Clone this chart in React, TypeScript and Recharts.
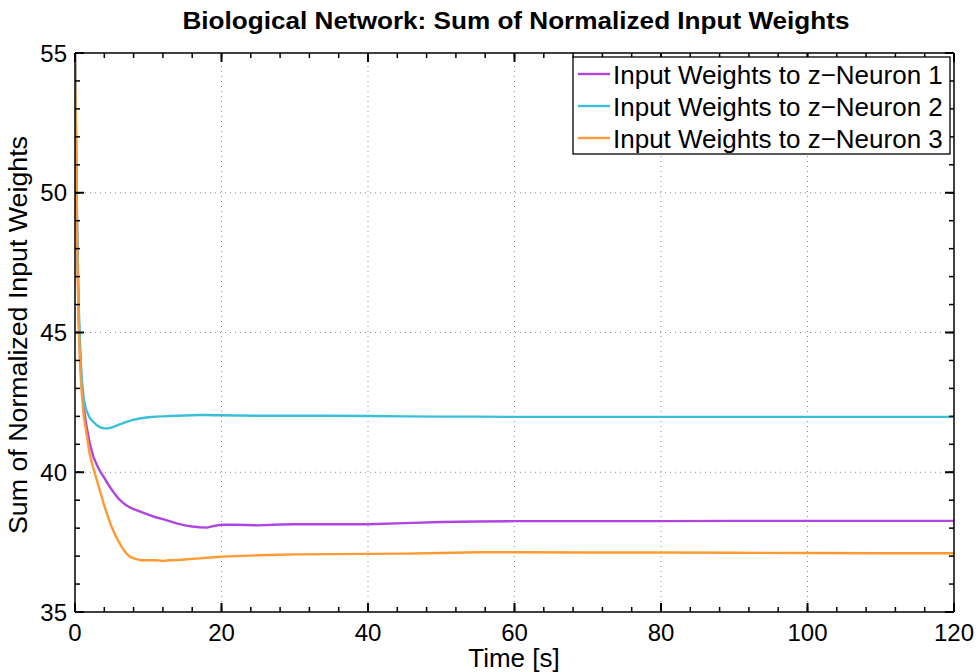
import React from "react";
import { LineChart, Line, XAxis, YAxis, ReferenceLine } from "recharts";

const TIME = [0, 0.15, 0.3, 0.5, 0.7, 0.9, 1.2, 1.5, 2, 2.5, 3, 3.5, 4, 4.5, 5, 5.5, 6, 6.5, 7, 7.5, 8, 9, 10, 11, 12, 13, 14, 15, 16, 17, 18, 19, 20, 22, 25, 28, 30, 35, 40, 45, 50, 55, 60, 70, 80, 90, 100, 110, 120];

const NEURON1 = [55, 51.6, 48.3, 45.6, 44.1, 43.2, 42.3, 41.75, 41.05, 40.56, 40.25, 40.0, 39.8, 39.58, 39.38, 39.2, 39.04, 38.92, 38.82, 38.74, 38.68, 38.58, 38.48, 38.39, 38.32, 38.24, 38.16, 38.1, 38.06, 38.03, 38.02, 38.08, 38.12, 38.12, 38.1, 38.13, 38.14, 38.14, 38.14, 38.18, 38.22, 38.24, 38.25, 38.25, 38.25, 38.26, 38.26, 38.26, 38.26];

const NEURON2 = [55, 51.8, 48.7, 46.0, 44.5, 43.4, 42.6, 42.25, 41.95, 41.8, 41.68, 41.6, 41.57, 41.57, 41.6, 41.65, 41.7, 41.75, 41.8, 41.84, 41.88, 41.93, 41.97, 41.99, 42.0, 42.01, 42.02, 42.03, 42.04, 42.05, 42.05, 42.04, 42.04, 42.03, 42.02, 42.02, 42.02, 42.02, 42.01, 42.0, 41.99, 41.99, 41.98, 41.98, 41.98, 41.98, 41.98, 41.98, 41.98];

const NEURON3 = [55, 51.5, 48.0, 45.3, 43.8, 42.9, 42.0, 41.5, 40.65, 40.15, 39.7, 39.25, 38.8, 38.4, 38.05, 37.75, 37.5, 37.28, 37.1, 36.98, 36.92, 36.85, 36.85, 36.85, 36.83, 36.85, 36.86, 36.88, 36.9, 36.92, 36.94, 36.96, 36.98, 37.0, 37.03, 37.05, 37.06, 37.07, 37.08, 37.09, 37.11, 37.14, 37.14, 37.13, 37.13, 37.12, 37.11, 37.1, 37.1];

const SERIES_KEYS = ["n1", "n2", "n3"];
const SERIES_NAMES = [
  "Input Weights to z\u2212Neuron 1",
  "Input Weights to z\u2212Neuron 2",
  "Input Weights to z\u2212Neuron 3",
];
const SERIES_COLORS = ["#b044e0", "#3bbfd9", "#ff9a33"];

const X_TICKS = [0, 4, 8, 12, 16, 20, 24, 28, 32, 36, 40, 44, 48, 52, 56, 60, 64, 68, 72, 76, 80, 84, 88, 92, 96, 100, 104, 108, 112, 116, 120];
const X_MAJOR = [0, 20, 40, 60, 80, 100, 120];
const X_GRID = [20, 40, 60, 80, 100];
const Y_TICKS = [35, 36, 37, 38, 39, 40, 41, 42, 43, 44, 45, 46, 47, 48, 49, 50, 51, 52, 53, 54, 55];
const Y_MAJOR = [35, 40, 45, 50, 55];
const Y_GRID = [40, 45, 50];

const TITLE = "Biological Network: Sum of Normalized Input Weights";
const X_LABEL = "Time [s]";
const Y_LABEL = "Sum of Normalized Input Weights";

const data = TIME.map((t, i) => ({ t, n1: NEURON1[i], n2: NEURON2[i], n3: NEURON3[i] }));

const FONT = "'Liberation Sans', Arial, Helvetica, sans-serif";
const TS = 5; // native (minor) inward tick length
const MAJ = 9; // major tick length
const TM_B = 17;
const TM_L = 13;
const TM_T = 11;
const TM_R = 11;
const TICK_FS = 24;
const TICK_W = 2;
const TICK_C = "#000";

function BottomTick(props: any) {
  const x = Number(props.x);
  const y = Number(props.y);
  const v = props.payload.value;
  if (!X_MAJOR.includes(v)) return <g />;
  const ay = y - TM_B + TS;
  return (
    <g>
      <path d={`M${x},${ay}L${x},${ay - MAJ}`} stroke={TICK_C} strokeWidth={TICK_W} fill="none" />
      <text x={x} y={y} dy="0.71em" textAnchor="middle" fontSize={TICK_FS} fontFamily={FONT} fill="#000" stroke="none">
        {v}
      </text>
    </g>
  );
}

function TopTick(props: any) {
  const x = Number(props.x);
  const y = Number(props.y);
  const v = props.payload.value;
  if (!X_MAJOR.includes(v)) return <g />;
  const ay = y + TM_T - TS;
  return <path d={`M${x},${ay}L${x},${ay + MAJ}`} stroke={TICK_C} strokeWidth={TICK_W} fill="none" />;
}

function LeftTick(props: any) {
  const x = Number(props.x);
  const y = Number(props.y);
  const v = props.payload.value;
  if (!Y_MAJOR.includes(v)) return <g />;
  const ax = x + TM_L - TS;
  return (
    <g>
      <path d={`M${ax},${y}L${ax + MAJ},${y}`} stroke={TICK_C} strokeWidth={TICK_W} fill="none" />
      <text x={x} y={y} dy="0.355em" textAnchor="end" fontSize={TICK_FS} fontFamily={FONT} fill="#000" stroke="none">
        {v}
      </text>
    </g>
  );
}

function RightTick(props: any) {
  const x = Number(props.x);
  const y = Number(props.y);
  const v = props.payload.value;
  if (!Y_MAJOR.includes(v)) return <g />;
  const ax = x - TM_R + TS;
  return <path d={`M${ax},${y}L${ax - MAJ},${y}`} stroke={TICK_C} strokeWidth={TICK_W} fill="none" />;
}

const axisLineStyle = { stroke: "#000", strokeWidth: 1.5 };
const tickLineStyle = { stroke: "#000", strokeWidth: 1.5 };

export default function App() {
  const W = 980;
  const H = 672;
  const legendX = 573;
  const legendY = 57;
  return (
    <div style={{ position: "absolute", left: 0, top: 0, width: W, height: H, background: "#fff", fontFamily: FONT }}>
      <LineChart
        width={W}
        height={H}
        data={data}
        margin={{ top: 43, right: 16, bottom: 0, left: 5 }}
      >
        <XAxis
          xAxisId="b"
          dataKey="t"
          type="number"
          domain={[0, 120]}
          ticks={X_TICKS}
          interval={0}
          orientation="bottom"
          height={60}
          tickSize={-TS}
          tickMargin={TM_B}
          tickLine={tickLineStyle}
          axisLine={axisLineStyle}
          tick={(p: any) => <BottomTick {...p} />}
          allowDataOverflow
        />
        <XAxis
          xAxisId="t"
          dataKey="t"
          type="number"
          domain={[0, 120]}
          ticks={X_TICKS}
          interval={0}
          orientation="top"
          height={10}
          tickSize={-TS}
          tickMargin={TM_T}
          tickLine={tickLineStyle}
          axisLine={axisLineStyle}
          tick={(p: any) => <TopTick {...p} />}
          allowDataOverflow
        />
        <YAxis
          yAxisId="l"
          type="number"
          domain={[35, 55]}
          ticks={Y_TICKS}
          interval={0}
          orientation="left"
          width={70}
          tickSize={-TS}
          tickMargin={TM_L}
          tickLine={tickLineStyle}
          axisLine={axisLineStyle}
          tick={(p: any) => <LeftTick {...p} />}
          allowDataOverflow
        />
        <YAxis
          yAxisId="r"
          type="number"
          domain={[35, 55]}
          ticks={Y_TICKS}
          interval={0}
          orientation="right"
          width={10}
          tickSize={-TS}
          tickMargin={TM_R}
          tickLine={tickLineStyle}
          axisLine={axisLineStyle}
          tick={(p: any) => <RightTick {...p} />}
          allowDataOverflow
        />
        {X_GRID.map((v) => (
          <ReferenceLine key={"gx" + v} xAxisId="b" yAxisId="l" x={v} stroke="#8a8a8a" strokeDasharray="1 4" strokeWidth={1} />
        ))}
        {Y_GRID.map((v) => (
          <ReferenceLine key={"gy" + v} xAxisId="b" yAxisId="l" y={v} stroke="#8a8a8a" strokeDasharray="1 4" strokeWidth={1} />
        ))}
        {SERIES_KEYS.map((k, i) => (
          <Line
            key={k}
            xAxisId="b"
            yAxisId="l"
            dataKey={k}
            name={SERIES_NAMES[i]}
            type="linear"
            stroke={SERIES_COLORS[i]}
            strokeWidth={2.4}
            dot={false}
            activeDot={false}
            isAnimationActive={false}
          />
        ))}
      </LineChart>
      <svg
        width={W}
        height={H}
        style={{ position: "absolute", left: 0, top: 0, pointerEvents: "none" }}
      >
        <text
          x={516}
          y={29}
          textAnchor="middle"
          fontSize={23}
          fontWeight="bold"
          fontFamily={FONT}
          fill="#000"
          textLength={667}
          lengthAdjust="spacingAndGlyphs"
        >
          {TITLE}
        </text>
        <text x={514} y={667} textAnchor="middle" fontSize={26} fontFamily={FONT} fill="#000">
          {X_LABEL}
        </text>
        <text
          x={0}
          y={0}
          transform={`translate(27, 335) rotate(-90)`}
          textAnchor="middle"
          fontSize={26}
          fontFamily={FONT}
          fill="#000"
          textLength={398}
          lengthAdjust="spacingAndGlyphs"
        >
          {Y_LABEL}
        </text>
        <g transform={`translate(${legendX}, ${legendY})`}>
          <rect x={0} y={0} width={377} height={97} fill="#fff" stroke="#000" strokeWidth={1.3} />
          {SERIES_NAMES.map((name, i) => {
            const ry = 17 + i * 32;
            return (
              <g key={name}>
                <line x1={5} x2={37} y1={ry} y2={ry} stroke={SERIES_COLORS[i]} strokeWidth={2.4} />
                <text x={40} y={ry + 10} fontSize={26} fontFamily={FONT} fill="#000">
                  {name}
                </text>
              </g>
            );
          })}
        </g>
      </svg>
    </div>
  );
}
